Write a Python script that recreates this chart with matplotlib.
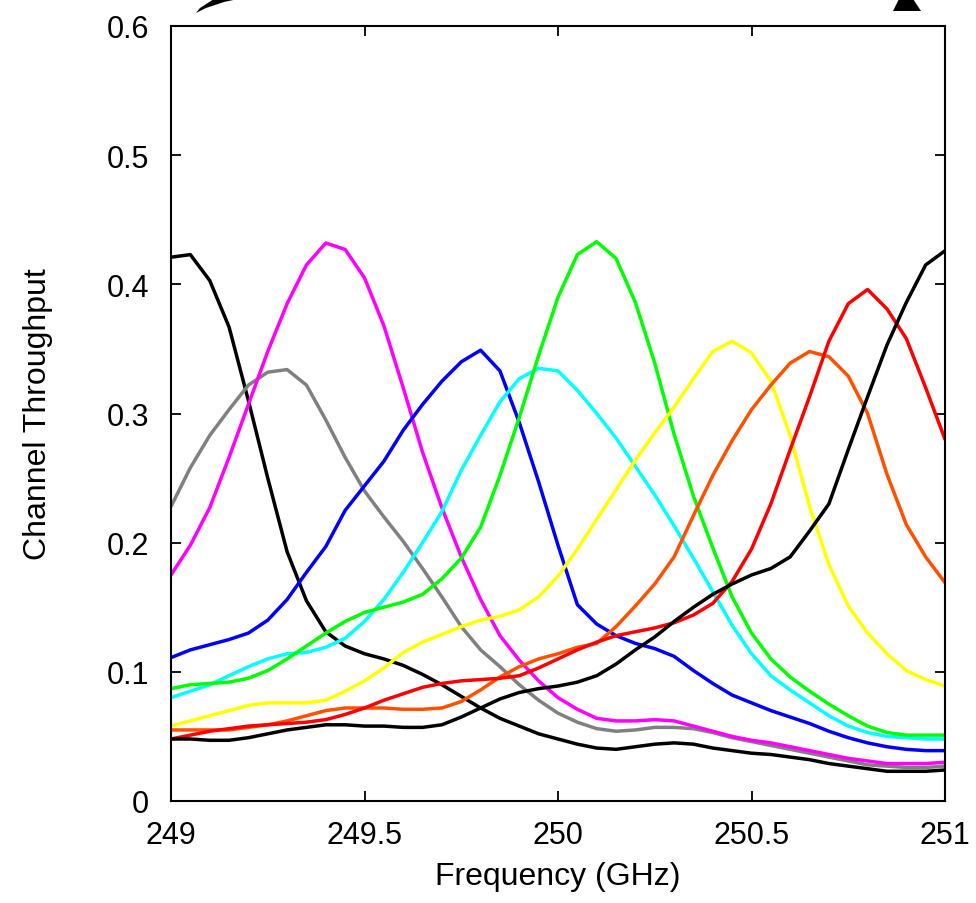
import matplotlib
matplotlib.use("Agg")
import matplotlib.pyplot as plt
import numpy as np
from matplotlib.patches import Polygon

plt.rcParams['font.family'] = ['Liberation Sans', 'DejaVu Sans']

# frequency grid (GHz), 0.05 GHz steps
freq = np.round(np.arange(249.0, 251.0001, 0.05), 2)

# channel throughput curves, one value per grid point
black_low_f = [0.421, 0.423, 0.403, 0.367, 0.310, 0.250, 0.193, 0.155, 0.131, 0.120,
               0.114, 0.110, 0.105, 0.098, 0.090, 0.081, 0.072, 0.064, 0.058, 0.052,
               0.048, 0.044, 0.041, 0.040, 0.042, 0.044, 0.045, 0.044, 0.041, 0.039,
               0.037, 0.036, 0.034, 0.032, 0.029, 0.027, 0.025, 0.023, 0.023, 0.023,
               0.024]
gray = [0.228, 0.258, 0.283, 0.303, 0.322, 0.332, 0.334, 0.322, 0.295, 0.266,
        0.240, 0.220, 0.201, 0.180, 0.158, 0.135, 0.117, 0.104, 0.090, 0.078,
        0.068, 0.061, 0.056, 0.054, 0.055, 0.057, 0.057, 0.056, 0.053, 0.049,
        0.046, 0.043, 0.040, 0.037, 0.034, 0.031, 0.028, 0.027, 0.026, 0.026,
        0.027]
magenta = [0.175, 0.198, 0.227, 0.266, 0.307, 0.348, 0.385, 0.415, 0.432, 0.427,
           0.405, 0.368, 0.320, 0.270, 0.227, 0.189, 0.156, 0.128, 0.109, 0.093,
           0.080, 0.071, 0.064, 0.062, 0.062, 0.063, 0.062, 0.058, 0.054, 0.050,
           0.047, 0.045, 0.042, 0.039, 0.036, 0.033, 0.031, 0.029, 0.029, 0.029,
           0.030]
blue = [0.111, 0.117, 0.121, 0.125, 0.130, 0.140, 0.156, 0.177, 0.197, 0.225,
        0.244, 0.263, 0.287, 0.307, 0.325, 0.340, 0.349, 0.333, 0.293, 0.247,
        0.198, 0.152, 0.137, 0.128, 0.122, 0.118, 0.112, 0.101, 0.091, 0.082,
        0.076, 0.070, 0.065, 0.060, 0.054, 0.049, 0.045, 0.042, 0.040, 0.039,
        0.039]
cyan = [0.080, 0.085, 0.090, 0.097, 0.104, 0.110, 0.114, 0.115, 0.119, 0.126,
        0.139, 0.156, 0.177, 0.200, 0.224, 0.256, 0.283, 0.309, 0.327, 0.335,
        0.333, 0.318, 0.300, 0.281, 0.259, 0.237, 0.213, 0.188, 0.162, 0.136,
        0.114, 0.097, 0.086, 0.076, 0.066, 0.058, 0.053, 0.050, 0.049, 0.048,
        0.048]
green = [0.087, 0.090, 0.091, 0.092, 0.095, 0.101, 0.110, 0.120, 0.130, 0.139,
         0.146, 0.150, 0.154, 0.160, 0.172, 0.188, 0.212, 0.252, 0.297, 0.345,
         0.390, 0.423, 0.433, 0.420, 0.386, 0.339, 0.284, 0.236, 0.196, 0.158,
         0.130, 0.110, 0.096, 0.085, 0.075, 0.066, 0.058, 0.053, 0.051, 0.051,
         0.051]
yellow = [0.058, 0.062, 0.066, 0.070, 0.074, 0.076, 0.076, 0.076, 0.078, 0.085,
          0.093, 0.103, 0.115, 0.123, 0.129, 0.135, 0.140, 0.143, 0.148, 0.158,
          0.174, 0.195, 0.218, 0.241, 0.264, 0.285, 0.305, 0.327, 0.348, 0.356,
          0.347, 0.325, 0.283, 0.228, 0.183, 0.151, 0.130, 0.114, 0.101, 0.094,
          0.089]
orange = [0.055, 0.055, 0.055, 0.055, 0.057, 0.059, 0.062, 0.066, 0.070, 0.072,
          0.072, 0.072, 0.071, 0.071, 0.072, 0.077, 0.086, 0.096, 0.104, 0.110,
          0.114, 0.119, 0.122, 0.135, 0.151, 0.168, 0.189, 0.221, 0.252, 0.279,
          0.303, 0.322, 0.339, 0.348, 0.344, 0.329, 0.300, 0.253, 0.214, 0.189,
          0.169]
red = [0.048, 0.051, 0.054, 0.056, 0.058, 0.059, 0.060, 0.061, 0.063, 0.067,
       0.072, 0.078, 0.083, 0.088, 0.091, 0.093, 0.094, 0.095, 0.097, 0.103,
       0.110, 0.117, 0.123, 0.128, 0.131, 0.134, 0.138, 0.144, 0.153, 0.170,
       0.195, 0.230, 0.272, 0.313, 0.356, 0.385, 0.396, 0.381, 0.358, 0.320,
       0.280]
black_high_f = [0.048, 0.048, 0.047, 0.047, 0.049, 0.052, 0.055, 0.057, 0.059, 0.059,
                0.058, 0.058, 0.057, 0.057, 0.059, 0.065, 0.072, 0.079, 0.084, 0.087,
                0.089, 0.092, 0.097, 0.106, 0.117, 0.127, 0.139, 0.150, 0.160, 0.168,
                0.175, 0.180, 0.189, 0.209, 0.230, 0.272, 0.313, 0.353, 0.386, 0.415,
                0.426]

curves = [
    (black_low_f, 'black'),
    (gray, '#808080'),
    (magenta, '#ff00ff'),
    (blue, '#0000ff'),
    (cyan, '#00ffff'),
    (green, '#00ff00'),
    (yellow, '#ffff00'),
    (orange, '#ff5000'),
    (red, '#ff0000'),
    (black_high_f, 'black'),
]

fig = plt.figure(figsize=(9.76, 9.04), dpi=100)
ax = fig.add_axes([171 / 976, 1 - 802 / 904, (945 - 171) / 976, (802 - 27) / 904])

for vals, col in curves:
    ax.plot(freq, vals, color=col, lw=2.5, solid_joinstyle='round',
            solid_capstyle='round')

ax.set_xlim(249, 251)
ax.set_ylim(0, 0.6)
ax.set_xticks([249, 249.5, 250, 250.5, 251])
ax.set_xticklabels(['249', '249.5', '250', '250.5', '251'])
ax.set_yticks([0, 0.1, 0.2, 0.3, 0.4, 0.5, 0.6])
ax.set_yticklabels(['0', '0.1', '0.2', '0.3', '0.4', '0.5', '0.6'])
ax.tick_params(direction='in', length=7, width=1.3, labelsize=22,
               top=True, right=True)
ax.tick_params(axis='x', pad=14)
ax.tick_params(axis='y', pad=16)
for s in ax.spines.values():
    s.set_linewidth(1.5)

ax.set_xlabel('Frequency (GHz)', fontsize=23)
ax.set_ylabel('Channel Throughput', fontsize=23)
ax.xaxis.set_label_coords(0.5, -0.077)
ax.yaxis.set_label_coords(-0.153, 0.5)

# cut-off fragments of something drawn above the frame
W, H = 976.0, 904.0
frag_left = [(196, 14), (206, 9), (224, 3), (238, 0), (214, 0), (200, 9)]
frag_right = [(893, 12), (921, 12), (913, 0), (899, 0)]
for pts in (frag_left, frag_right):
    fig.add_artist(Polygon([(x / W, 1 - y / H) for x, y in pts], closed=True,
                           transform=fig.transFigure, color='black', lw=0))

fig.savefig('out.png', dpi=100)
